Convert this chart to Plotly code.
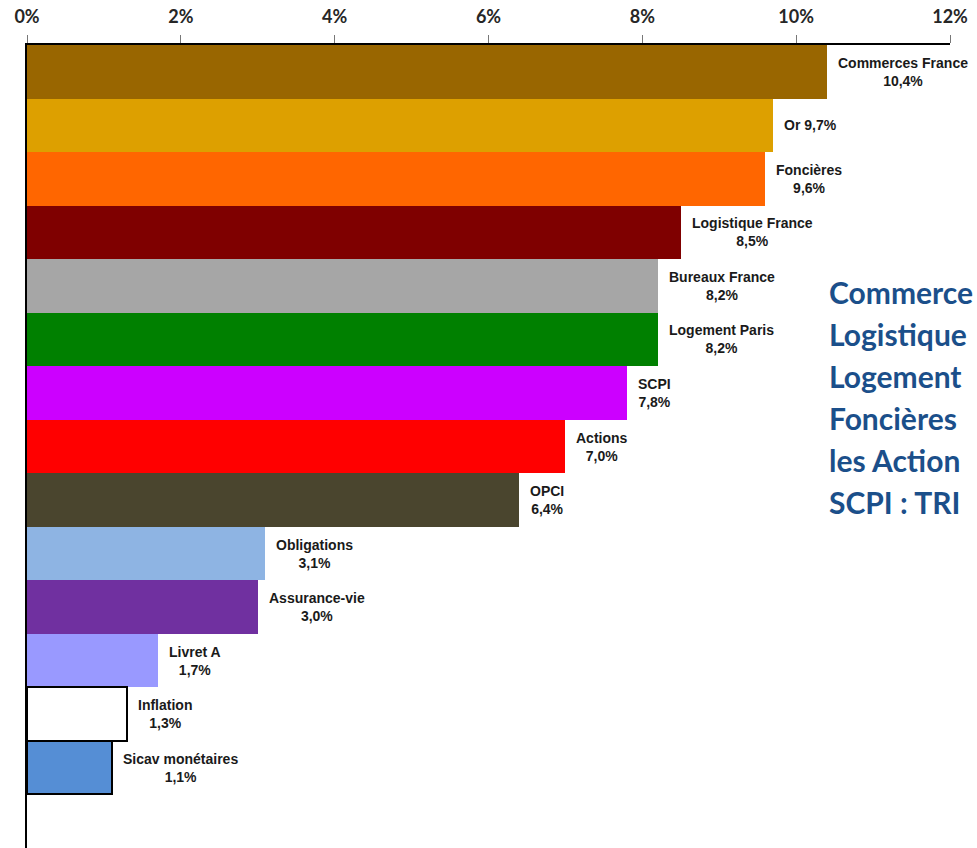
import plotly.graph_objects as go

# placements, du plus haut au plus bas
categories = ["Commerces France", "Or", "Foncières", "Logistique France", "Bureaux France",
              "Logement Paris", "SCPI", "Actions", "OPCI", "Obligations", "Assurance-vie",
              "Livret A", "Inflation", "Sicav monétaires"]
values = [10.4, 9.7, 9.6, 8.5, 8.2, 8.2, 7.8, 7.0, 6.4, 3.1, 3.0, 1.7, 1.3, 1.1]
colors = ["#996600", "#DDA000", "#FF6600", "#7F0000", "#A6A6A6", "#008000", "#CC00FF",
          "#FF0000", "#4A452E", "#8EB4E3", "#7030A0", "#9999FF", "#FFFFFF", "#558ED5"]
outlined = ["Inflation", "Sicav monétaires"]
one_line = ["Or"]

tick_vals = [0, 2, 4, 6, 8, 10, 12]
tick_text = ["0%", "2%", "4%", "6%", "8%", "10%", "12%"]

# texte de droite (coupé au bord dans l'original)
side_lines = ["Commerce", "Logistique", "Logement", "Foncières", "les Action", "SCPI : TRI"]

label_font = dict(family="Liberation Sans, Arial, sans-serif", size=14, color="#1a1a1a")

line_w = [2 if c in outlined else 0 for c in categories]

bars = go.Bar(x=values, y=categories, orientation="h",
              marker=dict(color=colors, line=dict(color="black", width=line_w)),
              hoverinfo="x+y")

fig = go.Figure(data=[bars])

for cat, v in zip(categories, values):
    pct = f"{v:.1f}%".replace(".", ",")
    if cat in one_line:
        txt = f"<b>{cat} {pct}</b>"
    else:
        txt = f"<b>{cat}</b><br><b>{pct}</b>"
    fig.add_annotation(x=v, y=cat, text=txt, showarrow=False, xanchor="left",
                       xshift=9, align="center", font=label_font)

for i, line in enumerate(side_lines):
    fig.add_annotation(xref="paper", yref="paper", x=0.8667, y=0.6925 - i * 0.0523,
                       xanchor="left", yanchor="middle", showarrow=False,
                       text=f"<b>{line}</b>",
                       font=dict(family="Lato, Open Sans, sans-serif", size=30, color="#1B4F8A"))

fig.update_layout(
    width=977, height=848,
    margin=dict(l=27, r=27, t=45, b=0),
    plot_bgcolor="white", paper_bgcolor="white",
    bargap=0, showlegend=False,
    xaxis=dict(side="top", range=[0, 12], tickvals=tick_vals, ticktext=tick_text,
               showgrid=False, zeroline=False, showline=True, linecolor="black", linewidth=1.5,
               ticks="outside", ticklen=8, tickcolor="#777777", tickwidth=1,
               ticklabelstandoff=5, automargin=False,
               tickfont=dict(family="Lato, sans-serif", size=18, color="#262626", weight="bold")),
    yaxis=dict(range=[len(categories) + 0.5, -0.5], showticklabels=False, showgrid=False,
               zeroline=False, showline=True, linecolor="black", linewidth=1.5, ticks="",
               automargin=False),
)

fig.write_html("out.html", config={"displayModeBar": False},
               post_script="document.body.style.margin='0';")
